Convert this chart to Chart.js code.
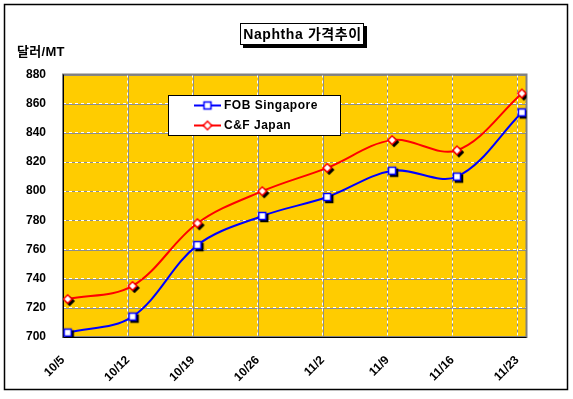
<!DOCTYPE html>
<html><head><meta charset="utf-8">
<script src="https://cdn.jsdelivr.net/npm/chart.js@4/dist/chart.umd.min.js"></script>
<style>html,body{margin:0;padding:0;background:#fff}#wrap{width:573px;height:399px;position:relative}</style>
</head><body><div id="wrap"><canvas id="c" width="573" height="399"></canvas></div>
<script>
const TITLE = 'Naphtha 가격추이';
const Y_UNIT = '달러/MT';
const dates = ['10/5','10/12','10/19','10/26','11/2','11/9','11/16','11/23'];
const fobSingapore = [703, 714, 763, 783, 796, 814, 810, 854];
const cfJapan = [726, 735, 778, 800, 816, 835, 828, 867];
const seriesNames = ['FOB Singapore', 'C&F Japan'];
const yMin = 700, yMax = 880, yStep = 20;

// day offsets derived from the date labels
function toDay(s){ const [m,d] = s.split('/').map(Number); return Date.UTC(2007, m-1, d)/86400000; }
const day0 = toDay(dates[0]);
const dayOffsets = dates.map(s => toDay(s) - day0);
const axisDays = dayOffsets[dayOffsets.length-1] + 1;

const FONT = '"Liberation Sans", Arial, "Noto Sans CJK KR", sans-serif';

function makeMarker(shape, color, shadow){
  const c = document.createElement('canvas');
  c.width = 18; c.height = 18;
  const g = c.getContext('2d');
  const cx = 9, cy = 9;
  function path(dx, dy){
    g.beginPath();
    if (shape === 'square') g.rect(cx-3.5+dx, cy-3.5+dy, 7, 7);
    else { const r = 4.2; g.moveTo(cx+dx, cy-r+dy); g.lineTo(cx+r+dx, cy+dy); g.lineTo(cx+dx, cy+r+dy); g.lineTo(cx-r+dx, cy+dy); g.closePath(); }
  }
  if (shadow){ path(2,2); g.fillStyle='#000'; g.fill(); g.lineWidth=1.5; g.strokeStyle='#000'; g.stroke(); }
  path(0,0); g.fillStyle='#fff'; g.fill(); g.lineWidth=1.5; g.strokeStyle=color; g.stroke();
  return c;
}
const markerFob = makeMarker('square', '#0000ff', true);
const markerCf = makeMarker('diamond', '#ff0000', true);
const legendFob = makeMarker('square', '#0000ff', false);
const legendCf = makeMarker('diamond', '#ff0000', false);

const series = [
  {name: seriesNames[0], values: fobSingapore, color: '#0000ff', marker: markerFob, legendMarker: legendFob},
  {name: seriesNames[1], values: cfJapan, color: '#ff0000', marker: markerCf, legendMarker: legendCf}
];

function setSpacing(ctx, v){ try { ctx.letterSpacing = v; } catch(e) {} }

const decor = {
  id: 'decor',
  beforeDraw(chart){
    const ctx = chart.ctx, a = chart.chartArea;
    ctx.save();
    ctx.fillStyle = '#fff'; ctx.fillRect(0,0,chart.width,chart.height);
    ctx.fillStyle = '#ffcc00'; ctx.fillRect(a.left, a.top, a.right-a.left, a.bottom-a.top);
    // gray under-layer for the two-tone gridlines
    ctx.strokeStyle = '#8c8c8c'; ctx.lineWidth = 1;
    const xs = chart.scales.x, ys = chart.scales.y;
    xs.ticks.forEach(t => { const p = Math.round(xs.getPixelForValue(t.value)) + 0.5; ctx.beginPath(); ctx.moveTo(p, a.top); ctx.lineTo(p, a.bottom); ctx.stroke(); });
    ys.ticks.forEach(t => { const p = Math.round(ys.getPixelForValue(t.value)) + 0.5; ctx.beginPath(); ctx.moveTo(a.left, p); ctx.lineTo(a.right, p); ctx.stroke(); });
    ctx.restore();
  },
  beforeDatasetsDraw(chart){
    const ctx = chart.ctx, a = chart.chartArea;
    ctx.save();
    ctx.strokeStyle = '#808080'; ctx.lineWidth = 2;
    ctx.strokeRect(a.left, a.top, a.right-a.left, a.bottom-a.top);
    ctx.strokeStyle = '#000'; ctx.lineWidth = 1;
    ctx.beginPath(); ctx.moveTo(a.left+0.5, a.top); ctx.lineTo(a.left+0.5, a.bottom+0.5); ctx.lineTo(a.right, a.bottom+0.5); ctx.stroke();
    ctx.restore();
  },
  afterDraw(chart){
    const ctx = chart.ctx;
    ctx.save();
    // outer border
    ctx.strokeStyle = '#000'; ctx.lineWidth = 1.5;
    ctx.strokeRect(4.5, 4.5, 563, 385);
    // title box
    ctx.fillStyle = '#000'; ctx.fillRect(243, 26, 124, 22);
    ctx.fillStyle = '#fff'; ctx.fillRect(240, 23, 124, 22);
    ctx.strokeStyle = '#000'; ctx.lineWidth = 1; ctx.strokeRect(240.5, 23.5, 123, 21);
    ctx.fillStyle = '#000'; ctx.font = 'bold 14px ' + FONT; ctx.textAlign = 'center'; ctx.textBaseline = 'middle';
    setSpacing(ctx, '0.6px');
    ctx.fillText(TITLE, 302.5, 35);
    // unit label
    setSpacing(ctx, '0.3px');
    ctx.font = 'bold 13px ' + FONT; ctx.textAlign = 'left';
    ctx.fillText(Y_UNIT, 17, 52);
    setSpacing(ctx, '0px');
    // legend
    ctx.fillStyle = '#fff'; ctx.fillRect(168, 95, 173, 41);
    ctx.strokeStyle = '#000'; ctx.lineWidth = 1; ctx.strokeRect(168.5, 95.5, 172, 40);
    series.forEach((s, i) => {
      const y = 105.5 + i*20;
      ctx.strokeStyle = s.color; ctx.lineWidth = 2;
      ctx.beginPath(); ctx.moveTo(194, y); ctx.lineTo(221, y); ctx.stroke();
      ctx.drawImage(s.legendMarker, 207.5-9, y-9);
      ctx.fillStyle = '#000'; ctx.font = 'bold 12px ' + FONT; ctx.textAlign = 'left'; ctx.textBaseline = 'middle';
      setSpacing(ctx, '0.5px');
      ctx.fillText(s.name, 224, y + 0.5);
      setSpacing(ctx, '0px');
    });
    ctx.restore();
  }
};

new Chart(document.getElementById('c'), {
  type: 'line',
  data: {
    datasets: series.map(s => ({
      label: s.name,
      data: s.values.map((v, i) => ({x: dayOffsets[i] + 0.5, y: v})),
      borderColor: s.color,
      borderWidth: 2,
      tension: 0.35,
      pointStyle: s.marker,
      pointRadius: 5,
      pointHoverRadius: 5,
      fill: false
    }))
  },
  options: {
    responsive: false,
    animation: false,
    devicePixelRatio: 1,
    layout: {padding: {left: 0, right: 46.5, top: 74.5, bottom: 0}},
    plugins: {legend: {display: false}, tooltip: {enabled: false}, title: {display: false}},
    events: [],
    scales: {
      x: {
        type: 'linear', min: 0, max: axisDays,
        afterBuildTicks(scale){ scale.ticks = dayOffsets.map(v => ({value: v})); },
        afterFit(scale){ scale.height = 62; },
        ticks: {
          autoSkip: false, minRotation: 45, maxRotation: 45, padding: 16,
          color: '#000', font: {family: FONT, size: 12, weight: 'bold'},
          callback(v){ const i = dayOffsets.indexOf(v); return i >= 0 ? dates[i] : ''; }
        },
        grid: {color: '#ffffff', lineWidth: 1, drawTicks: false},
        border: {display: false, dash: [3, 3]}
      },
      y: {
        type: 'linear', min: yMin, max: yMax,
        afterFit(scale){ scale.width = 63; },
        ticks: {
          stepSize: yStep, padding: 17,
          color: '#000', font: {family: FONT, size: 12, weight: 'bold'}
        },
        grid: {color: '#ffffff', lineWidth: 1, drawTicks: false},
        border: {display: false, dash: [3, 3]}
      }
    }
  },
  plugins: [decor]
});
</script></body></html>
